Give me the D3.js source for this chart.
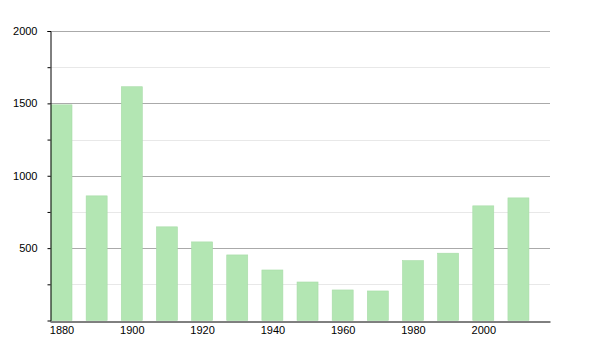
<!DOCTYPE html>
<html>
<head>
<meta charset="utf-8">
<script src="https://cdn.jsdelivr.net/npm/d3@7"></script>
<style>
body { margin: 0; background: #fff; }
text { font-family: "Liberation Sans", Arial, sans-serif; font-size: 11px; fill: #000; }
</style>
</head>
<body>
<div id="chart"></div>
<script>
const years = [1880, 1890, 1900, 1910, 1920, 1930, 1940, 1950, 1960, 1970, 1980, 1990, 2000, 2010];
const population = [1490, 861, 1615, 647, 543, 453, 349, 266, 211, 204, 414, 465, 792, 847];
const yMajor = [500, 1000, 1500, 2000];
const yMinor = [250, 750, 1250, 1750];
const xLabels = [1880, 1900, 1920, 1940, 1960, 1980, 2000];

const width = 600, height = 350;
const plotLeft = 50, plotRight = 550, plotTop = 31, plotBottom = 320.5;

const svg = d3.select("#chart")
	.append("svg")
	.attr("width", width)
	.attr("height", height);

const x = d3.scaleLinear().domain([1876.73, 2018.98]).range([plotLeft, plotRight]);
const y = d3.scaleLinear().domain([0, 2000]).range([plotBottom, plotTop]);
const barW = 21;

// grid
svg.selectAll(".minor").data(yMinor).enter().append("line")
	.attr("x1", plotLeft).attr("x2", plotRight)
	.attr("y1", d => Math.round(y(d)) + 0.5).attr("y2", d => Math.round(y(d)) + 0.5)
	.attr("stroke", "#e8e8e8");

svg.selectAll(".major").data(yMajor).enter().append("line")
	.attr("x1", plotLeft).attr("x2", plotRight)
	.attr("y1", d => Math.round(y(d)) + 0.5).attr("y2", d => Math.round(y(d)) + 0.5)
	.attr("stroke", "#aaaaaa");

// bars
svg.selectAll(".bar").data(years).enter().append("rect")
	.attr("x", (d) => x(d) - barW / 2)
	.attr("y", (d, i) => y(population[i]))
	.attr("width", barW)
	.attr("height", (d, i) => plotBottom - y(population[i]))
	.attr("fill", "#b3e6b3")
	.attr("stroke", "#a8dca8")
	.attr("stroke-width", 0.6);

// y axis
const yAxis = d3.axisLeft(y).tickValues(yMajor.concat(yMinor))
	.tickSize(3)
	.tickFormat(d => yMajor.includes(d) ? d : "");
svg.append("g")
	.attr("transform", `translate(${plotLeft + 0.5},0)`)
	.call(yAxis)
	.call(g => g.select(".domain").attr("stroke", "#000"))
	.call(g => g.selectAll(".tick text").attr("x", -13).style("font-size", "11px").style("font-family", "Liberation Sans, Arial, sans-serif"));

// x axis
const xAxis = d3.axisBottom(x).tickValues(xLabels).tickSize(0).tickFormat(d3.format("d"));
svg.append("g")
	.attr("transform", `translate(0,${Math.round(plotBottom) + 0.5})`)
	.call(xAxis)
	.call(g => g.select(".domain").attr("stroke", "#000"))
	.call(g => g.selectAll(".tick text").attr("y", 5).style("font-size", "11px").style("font-family", "Liberation Sans, Arial, sans-serif"));
</script>
</body>
</html>
